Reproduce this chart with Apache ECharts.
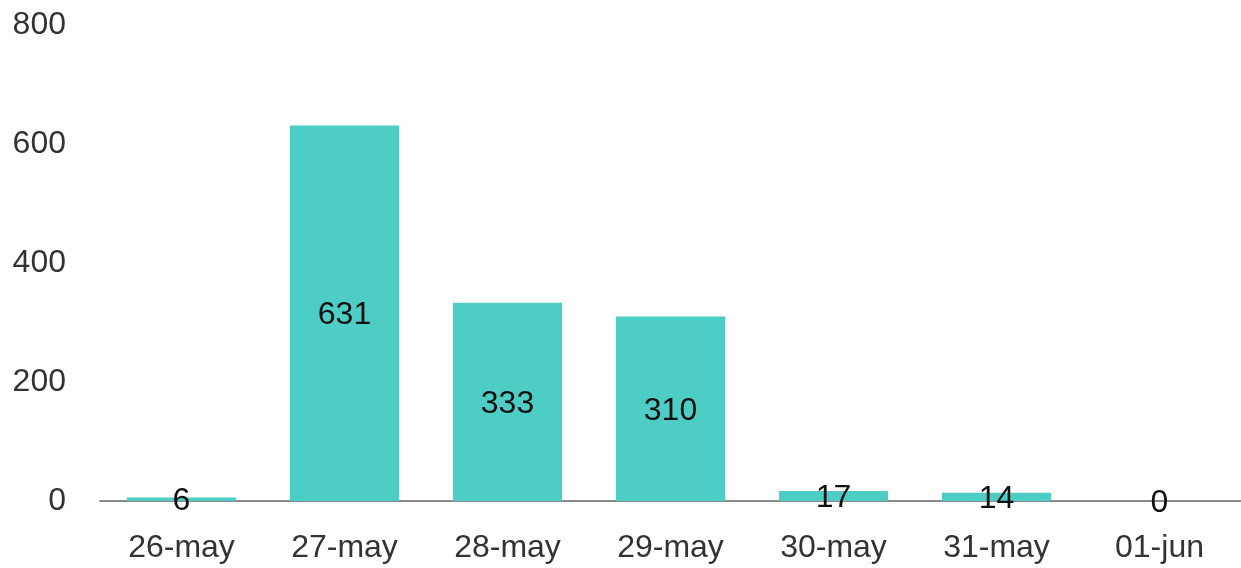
<!DOCTYPE html>
<html>
<head>
<meta charset="utf-8">
<script src="https://cdn.jsdelivr.net/npm/echarts@6/dist/echarts.min.js"></script>
<style>
  html, body { margin: 0; padding: 0; background: #fff; }
  #chart { width: 1241px; height: 568px; }
</style>
</head>
<body>
<div id="chart"></div>
<script>
// data
const categories = ["26-may", "27-may", "28-may", "29-may", "30-may", "31-may", "01-jun"];
const counts = [6, 631, 333, 310, 17, 14, 0];
const yTicks = [0, 200, 400, 600, 800];

const chart = echarts.init(document.getElementById("chart"));

chart.setOption({
  animation: false,
  textStyle: { fontFamily: "Liberation Sans, Arial, sans-serif" },
  grid: { left: 100, right: 0, top: 25, bottom: 67 },
  xAxis: {
    type: "category",
    data: categories,
    axisLine: { lineStyle: { color: "#8a8a8a", width: 2 } },
    axisTick: { show: false },
    axisLabel: { color: "#333", fontSize: 32, margin: 31 },
  },
  yAxis: {
    type: "value",
    min: yTicks[0],
    max: yTicks[yTicks.length - 1],
    interval: 200,
    axisLine: { show: false },
    axisTick: { show: false },
    splitLine: { show: false },
    axisLabel: { color: "#333", fontSize: 32, margin: 34 },
  },
  series: [
    {
      type: "bar",
      data: counts,
      barCategoryGap: "33%",
      itemStyle: { color: "#4ECDC4" },
      label: {
        show: true,
        position: "inside",
        color: "#111",
        fontSize: 32,
        offset: [0, 2],
      },
    },
  ],
});
</script>
</body>
</html>
